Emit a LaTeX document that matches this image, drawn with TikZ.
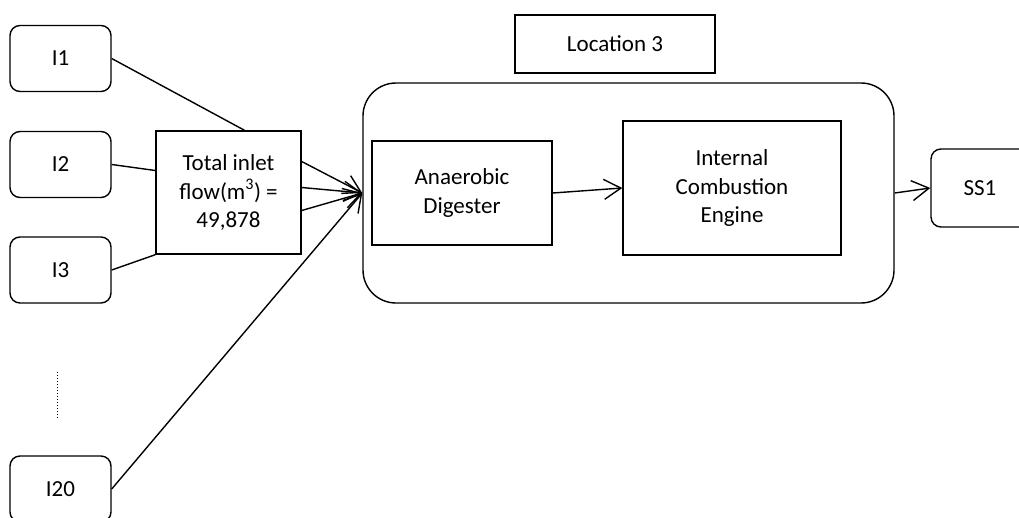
\documentclass[tikz,border=0pt]{standalone}
\usepackage{fontspec}
\setmainfont{Carlito}
\usetikzlibrary{arrows.meta}

\begin{document}
\begin{tikzpicture}[x=1pt,y=-1pt,line width=1.4pt,font=\fontsize{23}{28.5}\selectfont]
		\useasboundingbox (0,0) rectangle (1019,517);
		\begin{scope}[every node/.style={draw,rounded corners=10pt,align=center,minimum width=101pt,minimum height=66pt}]
			\node (I1) at (60.5,58.5) {I1};
			\node (I2) at (60.5,164.5) {I2};
			\node (I3) at (60.5,270) {I3};
			\node (I20) at (60.5,489) {I20};
			\node (SS1) at (980,188) [minimum width=98pt,minimum height=78pt] {SS1};
		\end{scope}
		\begin{scope}[every node/.style={draw,align=center}]
			\node (T) at (228.5,192.5) [minimum width=145pt,minimum height=123pt] {Total inlet\\flow(m\textsuperscript{3}) =\\49,878};
			\node (L) at (615,44) [minimum width=200pt,minimum height=58pt] {Location 3};
			\node (P) at (628.5,193) [rounded corners=33pt,minimum width=531pt,minimum height=220pt] {};
			\node (AD) at (462,193) [minimum width=180pt,minimum height=104pt] {Anaerobic\\Digester};
			\node (ICE) at (732,188) [minimum width=218pt,minimum height=134pt] {Internal\\Combustion\\Engine};
		\end{scope}
		\begin{scope}[>={Straight Barb[length=17pt,width=20pt]},
			every edge/.style={draw,line width=1.4pt}]
			\path (I1.east) edge ([xshift=16pt]T.north);
			\path (I2.east) edge ([yshift=22pt]T.west);
			\path (I3.east) edge (T.south west);
			\path [->] ([yshift=31pt]T.east) edge (P.west);
			\path [->] ([yshift=5pt]T.east) edge (P.west);
			\path [->] ([yshift=-18pt]T.east) edge (P.west);
			\path [->] (I20.east) edge (P.west);
			\path [->] (AD.east) edge (ICE.west);
			\path [->] (P.east) edge (SS1.west);
		\end{scope}
		\coordinate (dA) at (57,372);
		\coordinate (dB) at (57,419);
		\draw [dotted,line width=1pt] (dA) -- (dB);
	\end{tikzpicture}
\end{document}
